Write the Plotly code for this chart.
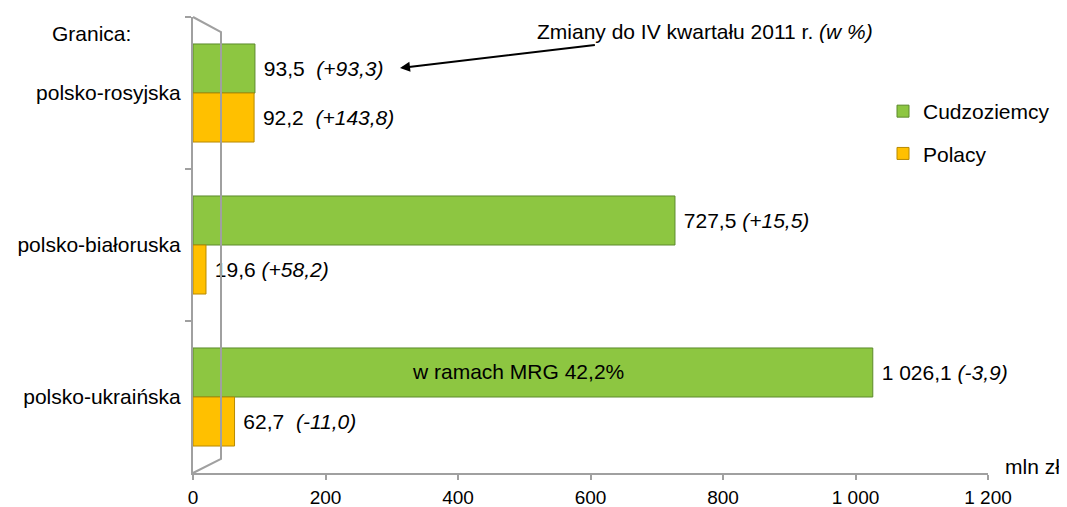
import plotly.graph_objects as go

# ---- data ----
borders = ["polsko-rosyjska", "polsko-białoruska", "polsko-ukraińska"]
foreigners = [93.5, 727.5, 1026.1]          # Cudzoziemcy, mln zł
poles = [92.2, 19.6, 62.7]                  # Polacy, mln zł
foreigners_change = ["(+93,3)", "(+15,5)", "(-3,9)"]
poles_change = ["(+143,8)", "(+58,2)", "(-11,0)"]
x_tickvals = [0, 200, 400, 600, 800, 1000, 1200]
x_ticktext = ["0", "200", "400", "600", "800", "1 000", "1 200"]

FONT = "Liberation Sans, Arial, sans-serif"
FS = 21
NB = "\u00a0"


def fmt(v):
    return f"{v:,.1f}".replace(",", " ").replace(".", ",")


def labels(vals, changes, gaps):
    return [f"{NB}{fmt(v)}{g}<i>{c}</i>" for v, c, g in zip(vals, changes, gaps)]


f_text = labels(foreigners, foreigners_change, [NB * 2, " ", " "])
p_text = labels(poles, poles_change, [NB * 2, " ", NB * 2])

fig = go.Figure()
fig.add_trace(go.Bar(
    y=borders, x=foreigners, orientation="h", name="Cudzoziemcy",
    marker=dict(color="#8DC641", line=dict(color="#5C8A2C", width=1)),
    text=f_text, textposition="outside", cliponaxis=False, constraintext="none",
    textfont=dict(family=FONT, size=FS, color="#000000"),
    legendgroup="a",
))
fig.add_trace(go.Bar(
    y=borders, x=poles, orientation="h", name="Polacy",
    marker=dict(color="#FFC000", line=dict(color="#B88A00", width=1)),
    text=p_text, textposition="outside", cliponaxis=False, constraintext="none",
    textfont=dict(family=FONT, size=FS, color="#000000"),
    legendgroup="b",
))

# page body has an 8px margin; plot area in page pixels: x 193..988, y 17..473
OFF = 8
W, H = 1067 - OFF, 507 - OFF
L, R, T, B = 193 - OFF, 79, 17 - OFF, 34
pw, ph = W - L - R, H - T - B


def px(x):
    return (x - OFF - L) / pw


def py(y):
    return (H + OFF - B - y) / ph


fig.update_layout(
    width=W, height=H,
    margin=dict(l=L, r=R, t=T, b=B, autoexpand=False),
    paper_bgcolor="white", plot_bgcolor="white",
    barmode="group", bargap=0.355, bargroupgap=0,
    font=dict(family=FONT, size=FS, color="#000000"),
    showlegend=True,
    legend=dict(x=px(883), y=py(91), xanchor="left", yanchor="top",
                traceorder="grouped", tracegroupgap=12,
                font=dict(family=FONT, size=FS, color="#000000"),
                bgcolor="rgba(0,0,0,0)"),
    xaxis=dict(range=[0, 1200], tickvals=x_tickvals, ticktext=x_ticktext,
               showgrid=False, zeroline=False, showline=True,
               linecolor="#A0A0A0", linewidth=2, ticks="outside",
               ticklen=5, tickwidth=2, tickcolor="#A0A0A0",
               ticklabelstandoff=1,
               tickfont=dict(family=FONT, size=19, color="#000000")),
    yaxis=dict(categoryorder="array", categoryarray=borders,
               autorange="reversed", showgrid=False, zeroline=False,
               showline=True, linecolor="#A0A0A0", linewidth=2,
               ticks="outside", tickson="boundaries", ticklen=6,
               tickwidth=2, tickcolor="#A0A0A0", ticklabelstandoff=6,
               tickfont=dict(family=FONT, size=FS, color="#000000")),
)

# 3D back wall outline (decorative)
fig.add_shape(type="path", xref="paper", yref="paper",
              path=f"M 0 1 L {px(221)} {py(32)} L {px(221)} {py(459)} L 0 0",
              line=dict(color="#A0A0A0", width=2))

fig.add_annotation(text="Granica:", xref="paper", yref="paper",
                   x=px(91), y=py(33), xanchor="center", yanchor="middle",
                   showarrow=False, font=dict(family=FONT, size=FS))
fig.add_annotation(text="mln zł", xref="paper", yref="paper",
                   x=px(1062), y=py(466), xanchor="right", yanchor="middle",
                   showarrow=False, font=dict(family=FONT, size=FS))
fig.add_annotation(text="Zmiany do IV kwartału 2011 r. <i>(w %)</i>",
                   xref="paper", yref="paper", x=px(400), y=py(68),
                   ax=305, ay=-36, showarrow=True, arrowhead=2,
                   arrowsize=1, arrowwidth=2, arrowcolor="#000000",
                   font=dict(family=FONT, size=FS))
fig.add_annotation(text="w ramach MRG 42,2%", x=490, y=borders[2],
                   yshift=26, showarrow=False,
                   font=dict(family=FONT, size=FS))

fig.write_html("out.html")
